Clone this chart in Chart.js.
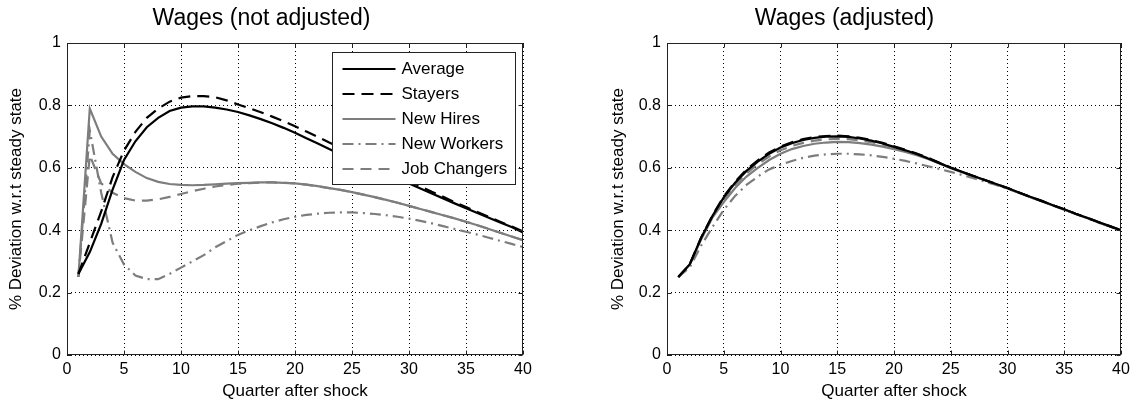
<!DOCTYPE html>
<html>
<head>
<meta charset="utf-8">
<script src="https://cdn.jsdelivr.net/npm/chart.js@4.4.0/dist/chart.umd.min.js"></script>
<style>
  html, body { margin: 0; padding: 0; background: #fff; }
  #wrap { display: flex; width: 1136px; height: 404px; }
  canvas { display: block; }
</style>
</head>
<body>
<div id="wrap">
  <canvas id="left" width="568" height="404"></canvas>
  <canvas id="right" width="568" height="404"></canvas>
</div>
<script>
const quarters = Array.from({ length: 40 }, (_, i) => i + 1);
const seriesNames = ["Average", "Stayers", "New Hires", "New Workers", "Job Changers"];
const yTicks = [0, 0.2, 0.4, 0.6, 0.8, 1];
const yTickLabels = ["0", "0.2", "0.4", "0.6", "0.8", "1"];
const xTicks = [0, 5, 10, 15, 20, 25, 30, 35, 40];

// wages, not adjusted
const rawAverage = [0.26, 0.33, 0.42, 0.53, 0.625, 0.685, 0.73, 0.76, 0.782, 0.793,
  0.797, 0.797, 0.793, 0.787, 0.779, 0.768, 0.756, 0.743, 0.728, 0.712,
  0.695, 0.678, 0.66, 0.643, 0.627, 0.612, 0.597, 0.582, 0.567, 0.55,
  0.534, 0.518, 0.502, 0.486, 0.47, 0.455, 0.44, 0.425, 0.41, 0.393];
const rawStayers = [0.26, 0.36, 0.46, 0.57, 0.655, 0.715, 0.76, 0.79, 0.812, 0.825,
  0.83, 0.83, 0.826, 0.816, 0.803, 0.791, 0.778, 0.764, 0.749, 0.733,
  0.716, 0.699, 0.681, 0.664, 0.647, 0.628, 0.61, 0.592, 0.575, 0.557,
  0.54, 0.523, 0.507, 0.49, 0.474, 0.458, 0.443, 0.427, 0.412, 0.396];
const rawNewHires = [0.25, 0.79, 0.7, 0.645, 0.612, 0.587, 0.567, 0.555, 0.548, 0.545,
  0.544, 0.545, 0.547, 0.549, 0.551, 0.552, 0.553, 0.553, 0.552, 0.55,
  0.546, 0.541, 0.535, 0.529, 0.522, 0.514, 0.506, 0.497, 0.488, 0.478,
  0.468, 0.458, 0.448, 0.438, 0.427, 0.416, 0.404, 0.392, 0.38, 0.368];
const rawNewWorkers = [0.25, 0.72, 0.52, 0.36, 0.29, 0.255, 0.243, 0.243, 0.26, 0.28,
  0.3, 0.32, 0.345, 0.365, 0.385, 0.4, 0.413, 0.425, 0.435, 0.443,
  0.449, 0.453, 0.456, 0.457, 0.457, 0.455, 0.452, 0.448, 0.443, 0.437,
  0.43, 0.422, 0.413, 0.404, 0.395, 0.386, 0.376, 0.366, 0.356, 0.346];
const rawJobChangers = [0.25, 0.64, 0.55, 0.52, 0.503, 0.495, 0.495, 0.499, 0.507, 0.516,
  0.525, 0.533, 0.54, 0.545, 0.549, 0.551, 0.553, 0.553, 0.552, 0.55,
  0.546, 0.541, 0.535, 0.529, 0.522, 0.514, 0.506, 0.497, 0.488, 0.478,
  0.468, 0.458, 0.448, 0.438, 0.427, 0.416, 0.404, 0.392, 0.38, 0.368];

// wages, adjusted
const adjAverage = [0.25, 0.29, 0.375, 0.445, 0.505, 0.552, 0.59, 0.62, 0.645, 0.665,
  0.679, 0.689, 0.696, 0.7, 0.701, 0.699, 0.694, 0.687, 0.678, 0.667,
  0.656, 0.644, 0.63, 0.615, 0.6, 0.587, 0.574, 0.561, 0.548, 0.535,
  0.521, 0.507, 0.494, 0.48, 0.467, 0.453, 0.44, 0.426, 0.413, 0.4];
const adjStayers = [0.25, 0.29, 0.376, 0.447, 0.508, 0.555, 0.594, 0.624, 0.649, 0.668,
  0.682, 0.692, 0.699, 0.702, 0.703, 0.701, 0.696, 0.689, 0.68, 0.669,
  0.658, 0.646, 0.632, 0.616, 0.601, 0.587, 0.574, 0.561, 0.548, 0.535,
  0.521, 0.507, 0.494, 0.48, 0.467, 0.453, 0.44, 0.426, 0.413, 0.4];
const adjNewHires = [0.25, 0.29, 0.37, 0.44, 0.49, 0.535, 0.572, 0.6, 0.625, 0.645,
  0.66, 0.67, 0.677, 0.681, 0.683, 0.682, 0.679, 0.674, 0.668, 0.66,
  0.651, 0.64, 0.628, 0.614, 0.599, 0.586, 0.573, 0.56, 0.547, 0.534,
  0.52, 0.506, 0.493, 0.479, 0.466, 0.452, 0.439, 0.425, 0.412, 0.399];
const adjNewWorkers = [0.25, 0.28, 0.35, 0.41, 0.465, 0.51, 0.545, 0.572, 0.595, 0.61,
  0.622, 0.632, 0.639, 0.643, 0.645, 0.645, 0.643, 0.64, 0.635, 0.629,
  0.622, 0.614, 0.605, 0.596, 0.587, 0.577, 0.567, 0.556, 0.545, 0.533,
  0.52, 0.506, 0.493, 0.479, 0.466, 0.452, 0.439, 0.425, 0.412, 0.399];
const adjJobChangers = [0.25, 0.29, 0.372, 0.443, 0.498, 0.545, 0.582, 0.612, 0.636, 0.656,
  0.67, 0.68, 0.687, 0.691, 0.693, 0.692, 0.688, 0.682, 0.675, 0.666,
  0.655, 0.644, 0.631, 0.616, 0.6, 0.587, 0.574, 0.561, 0.548, 0.535,
  0.521, 0.507, 0.494, 0.48, 0.467, 0.453, 0.44, 0.426, 0.413, 0.4];

const FONT = "'Liberation Sans', Arial, sans-serif";
const GRAY = "#7d7d7d";

// line look for each series, same order as seriesNames
const lineStyles = [
  { color: "#000", dash: [] },
  { color: "#000", dash: [12, 7] },
  { color: GRAY, dash: [] },
  { color: GRAY, dash: [11, 5, 2, 5] },
  { color: GRAY, dash: [11, 7] },
];

function buildDatasets(series) {
  return series.map((values, i) => ({
    label: seriesNames[i],
    data: quarters.map((q, j) => ({ x: q, y: values[j] })),
    borderColor: lineStyles[i].color,
    borderDash: lineStyles[i].dash,
    borderWidth: 2.2,
    pointRadius: 0,
    tension: 0,
    fill: false,
  }));
}

// closed box around the plot plus small inward tick marks
const axesBox = {
  id: "axesBox",
  afterDatasetsDraw(chart) {
    const { ctx, chartArea: a, scales } = chart;
    const l = Math.round(a.left) + 0.5, r = Math.round(a.right) - 0.5;
    const t = Math.round(a.top) + 0.5, b = Math.round(a.bottom) - 0.5;
    ctx.save();
    ctx.strokeStyle = "#222";
    ctx.lineWidth = 1;
    ctx.setLineDash([]);
    ctx.strokeRect(l, t, r - l, b - t);
    ctx.beginPath();
    xTicks.forEach((v) => {
      const px = Math.round(scales.x.getPixelForValue(v)) + 0.5;
      ctx.moveTo(px, b); ctx.lineTo(px, b - 4);
      ctx.moveTo(px, t); ctx.lineTo(px, t + 4);
    });
    yTicks.forEach((v) => {
      const py = Math.round(scales.y.getPixelForValue(v)) + 0.5;
      ctx.moveTo(l, py); ctx.lineTo(l + 4, py);
      ctx.moveTo(r, py); ctx.lineTo(r - 4, py);
    });
    ctx.stroke();
    ctx.restore();
  },
};

// boxed legend in the upper right corner of the plot
const boxLegend = {
  id: "boxLegend",
  afterDraw(chart) {
    const { ctx, chartArea: a } = chart;
    const w = 183, h = 132;
    const x0 = Math.round(a.right - 8 - w) + 0.5;
    const y0 = Math.round(a.top + 9) + 0.5;
    ctx.save();
    ctx.fillStyle = "#fff";
    ctx.fillRect(x0, y0, w, h);
    ctx.strokeStyle = "#222";
    ctx.lineWidth = 1;
    ctx.setLineDash([]);
    ctx.strokeRect(x0, y0, w, h);
    ctx.font = "17px " + FONT;
    ctx.textBaseline = "middle";
    chart.data.datasets.forEach((ds, i) => {
      const cy = y0 + 16.5 + i * 25;
      ctx.beginPath();
      ctx.strokeStyle = ds.borderColor;
      ctx.lineWidth = ds.borderWidth;
      ctx.setLineDash(ds.borderDash);
      ctx.moveTo(x0 + 10, cy);
      ctx.lineTo(x0 + 63, cy);
      ctx.stroke();
      ctx.fillStyle = "#000";
      ctx.fillText(ds.label, x0 + 69, cy);
    });
    ctx.restore();
  },
};

function makeOptions(title, yAxisWidth, yTitlePad, padRight) {
  const tickFont = { family: FONT, size: 16 };
  const titleFont = { family: FONT, size: 17 };
  return {
    responsive: false,
    animation: false,
    layout: { padding: { left: 0, right: padRight, top: 0, bottom: 0 } },
    plugins: {
      legend: { display: false },
      tooltip: { enabled: false },
      title: {
        display: true,
        text: title,
        color: "#000",
        font: { family: FONT, size: 23, weight: "normal" },
        padding: { top: 5, bottom: 10.4 },
      },
    },
    scales: {
      x: {
        type: "linear",
        min: 0,
        max: 40,
        afterFit(scale) { scale.height = 49; },
        afterBuildTicks(scale) { scale.ticks = xTicks.map((v) => ({ value: v })); },
        ticks: { color: "#000", font: tickFont, padding: 5, maxRotation: 0, autoSkip: false },
        grid: { color: "#000", lineWidth: 1, drawTicks: false },
        border: { display: false, dash: [1, 3] },
        title: {
          display: true,
          text: "Quarter after shock",
          color: "#000",
          font: titleFont,
          padding: { top: 0, bottom: 2 },
        },
      },
      y: {
        min: 0,
        max: 1,
        afterFit(scale) { scale.width = yAxisWidth; },
        afterBuildTicks(scale) { scale.ticks = yTicks.map((v) => ({ value: v })); },
        ticks: {
          color: "#000",
          font: tickFont,
          padding: 6,
          callback: (value, index) => yTickLabels[index],
        },
        grid: { color: "#000", lineWidth: 1, drawTicks: false },
        border: { display: false, dash: [1, 3] },
        title: {
          display: true,
          text: "% Deviation w.r.t steady state",
          color: "#000",
          font: titleFont,
          padding: { top: yTitlePad, bottom: 0 },
        },
      },
    },
  };
}

new Chart(document.getElementById("left"), {
  type: "line",
  data: {
    datasets: buildDatasets([rawAverage, rawStayers, rawNewHires, rawNewWorkers, rawJobChangers]),
  },
  options: makeOptions("Wages (not adjusted)", 67, 6, 45),
  plugins: [axesBox, boxLegend],
});

new Chart(document.getElementById("right"), {
  type: "line",
  data: {
    datasets: buildDatasets([adjAverage, adjStayers, adjNewHires, adjNewWorkers, adjJobChangers]),
  },
  options: makeOptions("Wages (adjusted)", 99, 40, 15),
  plugins: [axesBox],
});
</script>
</body>
</html>
